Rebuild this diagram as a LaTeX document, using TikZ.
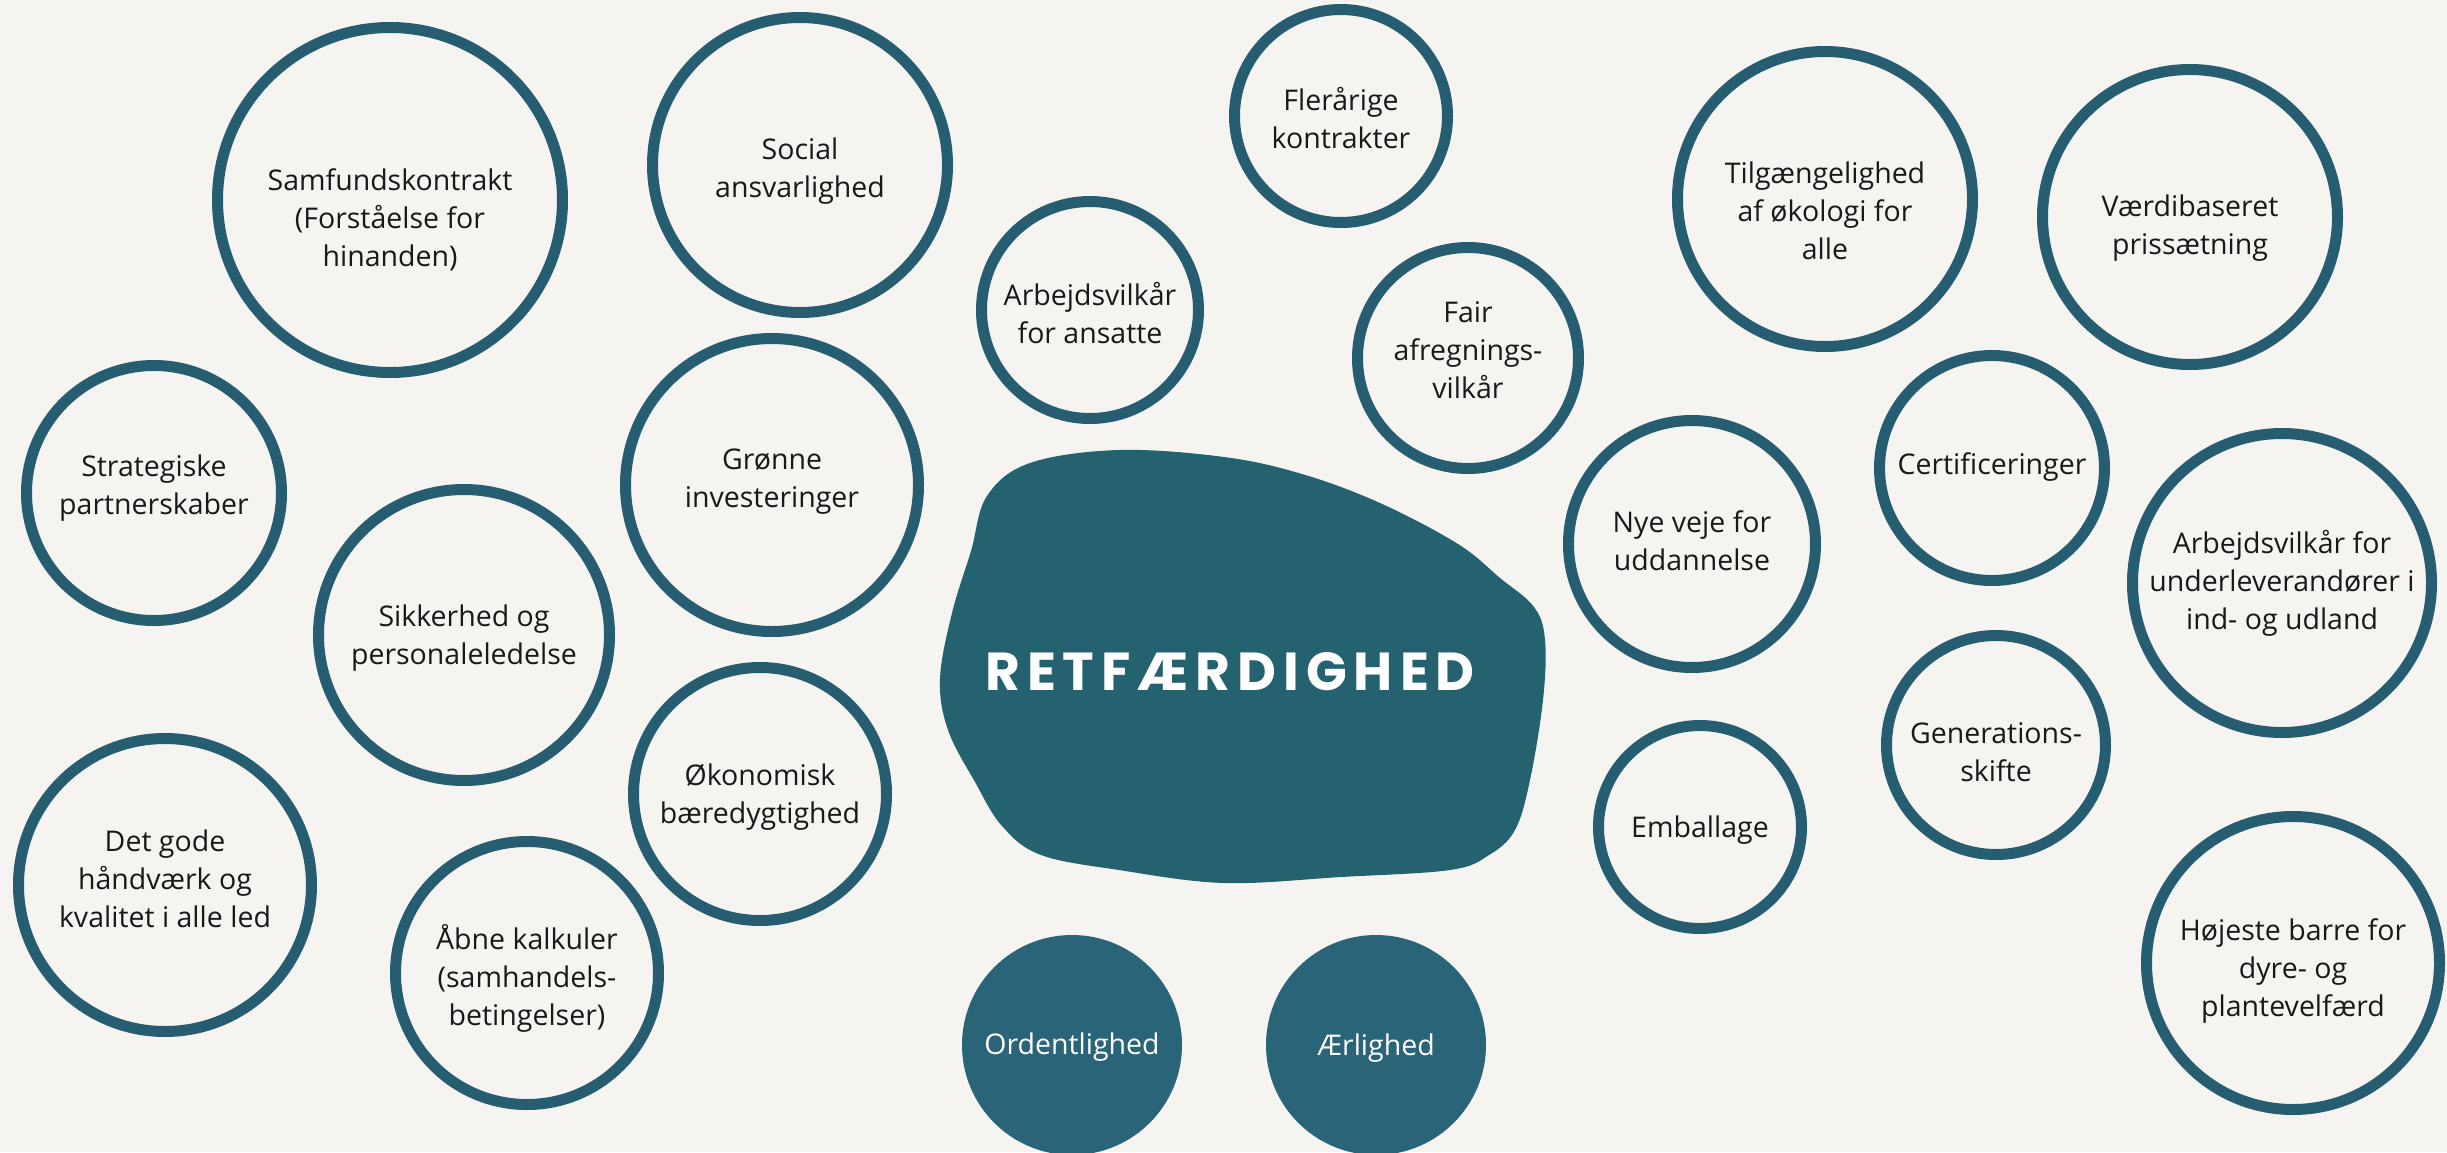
\documentclass[tikz,border=0pt]{standalone}
\usepackage{fontspec}
\setmainfont{Open Sans}
\newfontfamily\headfont{Poppins}[LetterSpace=13.0]
\definecolor{paper}{HTML}{F5F4F0}
\definecolor{ring}{HTML}{275D71}
\definecolor{disc}{HTML}{2A6479}
\definecolor{blobfill}{HTML}{24626F}
\begin{document}
\begin{tikzpicture}[x=1pt,y=-1pt,
  label text/.style={align=center, inner sep=0pt, font=\fontsize{28.5}{38}\selectfont},
  % circle with its caption set slightly off centre
  caption/.style 2 args={label={[label text, text=black!90, yshift=#1pt]center:{#2}}},
  whitecaption/.style 2 args={label={[label text, text=white, yshift=#1pt]center:{#2}}},
  ringnode/.style={circle, draw=ring, line width=11pt, inner sep=0pt,
    minimum size={2*#1pt-11pt}},
  discnode/.style={circle, fill=disc, inner sep=0pt, minimum size={2*#1pt}},
  headline/.style={text=white, inner sep=0pt,
    font=\headfont\bfseries\fontsize{53.5}{60}\selectfont}]
  % page
  \fill[paper] (0,0) rectangle (2447,1152);
  \useasboundingbox (0,0) rectangle (2447,1152);

  % central shape
  \fill[blobfill] plot[smooth cycle, tension=0.6] coordinates {
    (1119,450) (1224,457) (1302,474) (1380,503) (1458,544) (1500,578)
    (1534,607) (1545,640) (1543,700) (1530,780) (1515,830) (1489,855)
    (1450,870) (1341,877) (1224,883) (1119,870) (1041,855) (1002,826)
    (975,782) (948,730) (940,679) (952,613) (971,551) (987,496) (1030,463)};
  \node[headline] (retf) at (1230,672) {RETFÆRDIGHED};

  % outlined circles
  \node[ringnode=178, caption={-20}{Samfundskontrakt\\(Forståelse for\\hinanden)}] (samf) at (390,200) {};
  \node[ringnode=153, caption={-6}{Social\\ansvarlighed}] (social) at (800,165) {};
  \node[ringnode=112, caption={-2}{Flerårige\\kontrakter}] (fler) at (1341,116) {};
  \node[ringnode=153, caption={-12}{Tilgængelighed\\af økologi for\\alle}] (tilg) at (1825,199) {};
  \node[ringnode=153, caption={-11}{Værdibaseret\\prissætning}] (vaerdi) at (2190,217) {};
  \node[ringnode=114, caption={-3}{Arbejdsvilkår\\for ansatte}] (arbans) at (1090,310) {};
  \node[ringnode=116, caption={8}{Fair\\afregnings-\\vilkår}] (fair) at (1468,358) {};
  \node[ringnode=133, caption={5}{Strategiske\\partnerskaber}] (strat) at (154,493) {};
  \node[ringnode=152, caption={3}{Grønne\\investeringer}] (gron) at (772,485) {};
  \node[ringnode=118, caption={1}{Certificeringer}] (cert) at (1992,468) {};
  \node[ringnode=129, caption={3}{Nye veje for\\uddannelse}] (nye) at (1692,544) {};
  \node[ringnode=155, caption={0}{Arbejdsvilkår for\\underleverandører i\\ind- og udland}] (arbund) at (2282,583) {};
  \node[ringnode=151, caption={-3}{Sikkerhed og\\personaleledelse}] (sikker) at (464,635) {};
  \node[ringnode=115, caption={-7}{Generations-\\skifte}] (gen) at (1996,745) {};
  \node[ringnode=132, caption={-3}{Økonomisk\\bæredygtighed}] (okon) at (760,794) {};
  \node[ringnode=107, caption={-3}{Emballage}] (emb) at (1700,827) {};
  \node[ringnode=152, caption={6}{Det gode\\håndværk og\\kvalitet i alle led}] (detgod) at (165,885) {};
  \node[ringnode=137, caption={-5}{Åbne kalkuler\\(samhandels-\\betingelser)}] (aabne) at (527,973) {};
  \node[ringnode=152, caption={-8}{Højeste barre for\\dyre- og\\plantevelfærd}] (hoej) at (2293,963) {};

  % filled circles
  \node[discnode=110, whitecaption={-2}{Ordentlighed}] (orden) at (1072,1045) {};
  \node[discnode=110, whitecaption={-3}{Ærlighed}] (aerl) at (1376,1045) {};
\end{tikzpicture}
\end{document}
